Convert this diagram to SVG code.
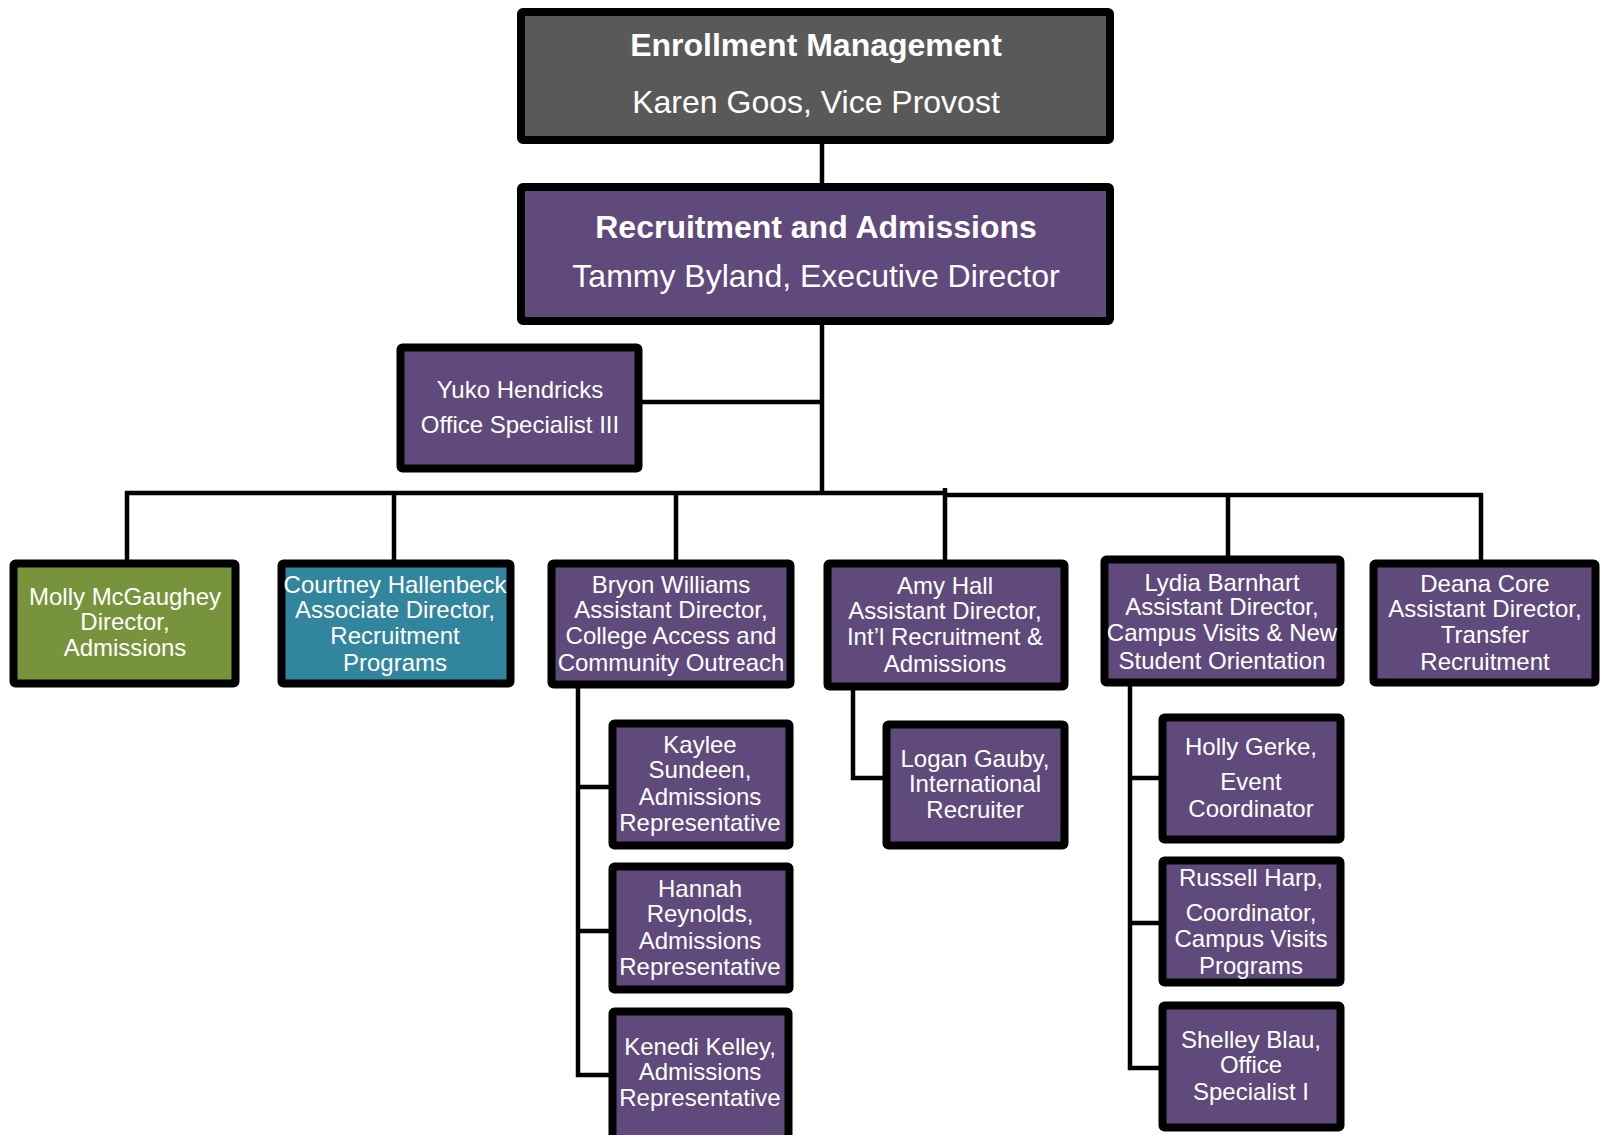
<svg xmlns="http://www.w3.org/2000/svg" width="1601" height="1135" viewBox="0 0 1601 1135">
<style>
.box{stroke:#000;stroke-width:8}
.gray{fill:#595959}
.pur{fill:#604a7b}
.grn{fill:#77933c}
.teal{fill:#31859c}
text{font-family:"Liberation Sans",Arial,sans-serif;fill:#fff;text-anchor:middle}
.h{font-size:32px}
.hb{font-size:32px;font-weight:bold}
.t{font-size:24px}
.c{fill:none;stroke:#000;stroke-width:4.5}
</style>
<rect width="1601" height="1135" fill="#fff"/>
<g id="connectors">
<path class="c" d="M822 140V184M822 323V493M642 402H822"/>
<path class="c" d="M125 493H946M946 495H1483"/>
<path class="c" d="M127 491V560M394 491V560M676 491V560M945 488V560M1228 493V556M1481 493V560"/>
<path class="c" d="M578 687V1075H609M578 787H609M578 931H609"/>
<path class="c" d="M853 689V778H883"/>
<path class="c" d="M1130 685V1068H1159M1130 778H1159M1130 923H1159"/>
</g>
<g id="enrollment">
<rect class="box gray" x="521" y="12" width="589" height="128" rx="2"/>
<text class="hb" x="816" y="56">Enrollment Management</text>
<text class="h" x="816" y="113">Karen Goos, Vice Provost</text>
</g>
<g id="recruitment">
<rect class="box pur" x="521" y="187" width="589" height="134" rx="2"/>
<text class="hb" x="816" y="238">Recruitment and Admissions</text>
<text class="h" x="816" y="287">Tammy Byland, Executive Director</text>
</g>
<g id="yuko">
<rect class="box pur" x="400.5" y="347.5" width="238" height="121" rx="2"/>
<text class="t" x="520" y="398">Yuko Hendricks</text>
<text class="t" x="520" y="433">Office Specialist III</text>
</g>
<g id="molly">
<rect class="box grn" x="13.5" y="563.5" width="222" height="120" rx="2"/>
<text class="t" x="125" y="605">Molly McGaughey</text>
<text class="t" x="125" y="630">Director,</text>
<text class="t" x="125" y="656">Admissions</text>
</g>
<g id="courtney">
<rect class="box teal" x="281.5" y="563.5" width="229" height="120" rx="2"/>
<text class="t" x="395" y="593">Courtney Hallenbeck</text>
<text class="t" x="395" y="618">Associate Director,</text>
<text class="t" x="395" y="644">Recruitment</text>
<text class="t" x="395" y="671">Programs</text>
</g>
<g id="bryon">
<rect class="box pur" x="551.5" y="563.5" width="239" height="121" rx="2"/>
<text class="t" x="671" y="593">Bryon Williams</text>
<text class="t" x="671" y="618">Assistant Director,</text>
<text class="t" x="671" y="644">College Access and</text>
<text class="t" x="671" y="671">Community Outreach</text>
</g>
<g id="amy">
<rect class="box pur" x="827.5" y="563.5" width="237" height="123" rx="2"/>
<text class="t" x="945" y="594">Amy Hall</text>
<text class="t" x="945" y="619">Assistant Director,</text>
<text class="t" x="945" y="645">Int’l Recruitment &amp;</text>
<text class="t" x="945" y="672">Admissions</text>
</g>
<g id="lydia">
<rect class="box pur" x="1104.5" y="559.5" width="236" height="123" rx="2"/>
<text class="t" x="1222" y="591">Lydia Barnhart</text>
<text class="t" x="1222" y="615">Assistant Director,</text>
<text class="t" x="1222" y="641">Campus Visits &amp; New</text>
<text class="t" x="1222" y="669">Student Orientation</text>
</g>
<g id="deana">
<rect class="box pur" x="1373.5" y="563.5" width="222" height="119" rx="2"/>
<text class="t" x="1485" y="592">Deana Core</text>
<text class="t" x="1485" y="617">Assistant Director,</text>
<text class="t" x="1485" y="643">Transfer</text>
<text class="t" x="1485" y="670">Recruitment</text>
</g>
<g id="kaylee">
<rect class="box pur" x="612.5" y="723.5" width="177" height="122" rx="2"/>
<text class="t" x="700" y="753">Kaylee</text>
<text class="t" x="700" y="778">Sundeen,</text>
<text class="t" x="700" y="805">Admissions</text>
<text class="t" x="700" y="831">Representative</text>
</g>
<g id="hannah">
<rect class="box pur" x="612.5" y="866.5" width="177" height="123" rx="2"/>
<text class="t" x="700" y="897">Hannah</text>
<text class="t" x="700" y="922">Reynolds,</text>
<text class="t" x="700" y="949">Admissions</text>
<text class="t" x="700" y="975">Representative</text>
</g>
<g id="kenedi">
<rect class="box pur" x="612.5" y="1011.5" width="176" height="130" rx="2"/>
<text class="t" x="700" y="1055">Kenedi Kelley,</text>
<text class="t" x="700" y="1080">Admissions</text>
<text class="t" x="700" y="1106">Representative</text>
</g>
<g id="logan">
<rect class="box pur" x="886.5" y="724.5" width="178" height="121" rx="2"/>
<text class="t" x="975" y="767">Logan Gauby,</text>
<text class="t" x="975" y="792">International</text>
<text class="t" x="975" y="818">Recruiter</text>
</g>
<g id="holly">
<rect class="box pur" x="1162.5" y="717.5" width="178" height="122" rx="2"/>
<text class="t" x="1251" y="755">Holly Gerke,</text>
<text class="t" x="1251" y="790">Event</text>
<text class="t" x="1251" y="817">Coordinator</text>
</g>
<g id="russell">
<rect class="box pur" x="1162.5" y="860.5" width="178" height="122" rx="2"/>
<text class="t" x="1251" y="886">Russell Harp,</text>
<text class="t" x="1251" y="921">Coordinator,</text>
<text class="t" x="1251" y="947">Campus Visits</text>
<text class="t" x="1251" y="974">Programs</text>
</g>
<g id="shelley">
<rect class="box pur" x="1162.5" y="1005.5" width="178" height="122" rx="2"/>
<text class="t" x="1251" y="1048">Shelley Blau,</text>
<text class="t" x="1251" y="1073">Office</text>
<text class="t" x="1251" y="1100">Specialist I</text>
</g>
</svg>
